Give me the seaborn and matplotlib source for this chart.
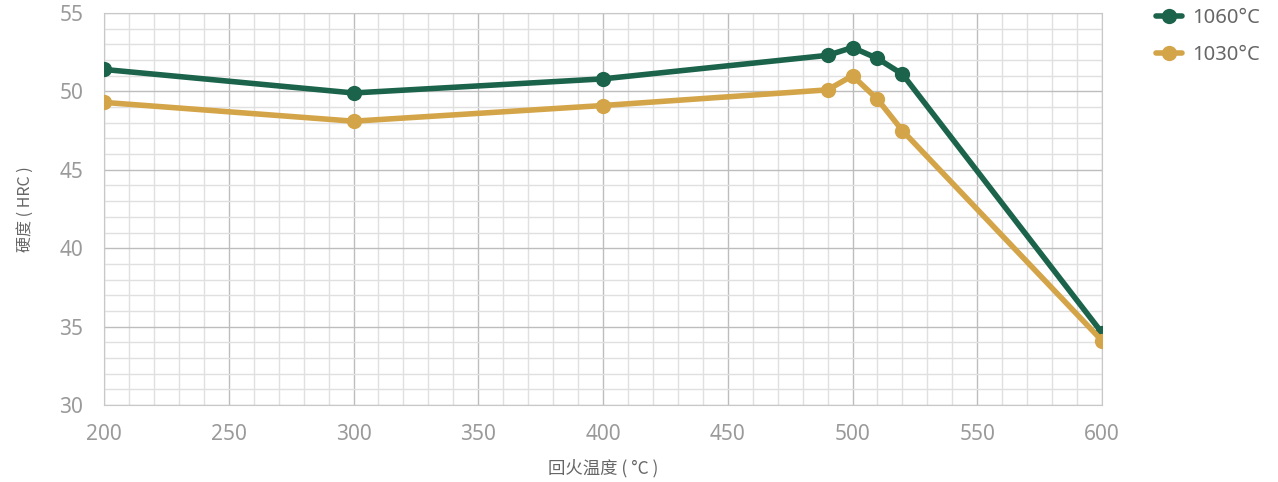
import seaborn as sns
import pandas as pd
import matplotlib.pyplot as plt
from matplotlib.ticker import MultipleLocator

temps = [200, 300, 400, 490, 500, 510, 520, 600]
hrc_1060 = [51.4, 49.9, 50.8, 52.3, 52.8, 52.1, 51.1, 34.6]
hrc_1030 = [49.3, 48.1, 49.1, 50.1, 51.0, 49.5, 47.5, 34.1]
series = ["1060°C", "1030°C"]
colors = ["#1b634a", "#d4a448"]

df = pd.DataFrame({
    "temp": temps * 2,
    "hrc": hrc_1060 + hrc_1030,
    "series": [series[0]] * len(temps) + [series[1]] * len(temps),
})

sns.set_style("white")
plt.rcParams['font.family'] = ['Noto Sans', 'Noto Sans CJK SC', 'DejaVu Sans']

fig = plt.figure(figsize=(12.78, 4.82), dpi=100)
ax = fig.add_axes([0.0814, 0.1598, 0.7809, 0.8132])

sns.lineplot(data=df, x="temp", y="hrc", hue="series", palette=colors,
             marker="o", markersize=11, markeredgewidth=0, linewidth=4,
             ax=ax, zorder=3)

ax.set_xlim(200, 600)
ax.set_ylim(30, 55)
ax.xaxis.set_major_locator(MultipleLocator(50))
ax.xaxis.set_minor_locator(MultipleLocator(10))
ax.yaxis.set_major_locator(MultipleLocator(5))
ax.yaxis.set_minor_locator(MultipleLocator(1))
ax.grid(which="major", color="#bdbdbd", linewidth=1)
ax.grid(which="minor", color="#e0e0e0", linewidth=1)
ax.set_axisbelow(True)
for s in ax.spines.values():
    s.set_color("#c8c8c8")
ax.tick_params(which="both", length=0, colors="#9a9a9a", labelsize=15)
ax.tick_params(axis="x", pad=14)
ax.tick_params(axis="y", pad=15)

cjk = ['Noto Sans CJK SC', 'DejaVu Sans']
ax.set_xlabel("回火温度 ( °C )", fontsize=12.5, color="#666666", labelpad=10,
              family=cjk)
ax.set_ylabel("硬度 ( HRC )", fontsize=11.5, color="#666666", labelpad=18,
              family=cjk)

leg = ax.legend(loc="upper left", bbox_to_anchor=(1.036, 1.06), frameon=False,
                fontsize=14.5, handlelength=1.3, labelspacing=0.85,
                handletextpad=0.5)
for t in leg.get_texts():
    t.set_color("#666666")

fig.savefig("out.png", dpi=100)
